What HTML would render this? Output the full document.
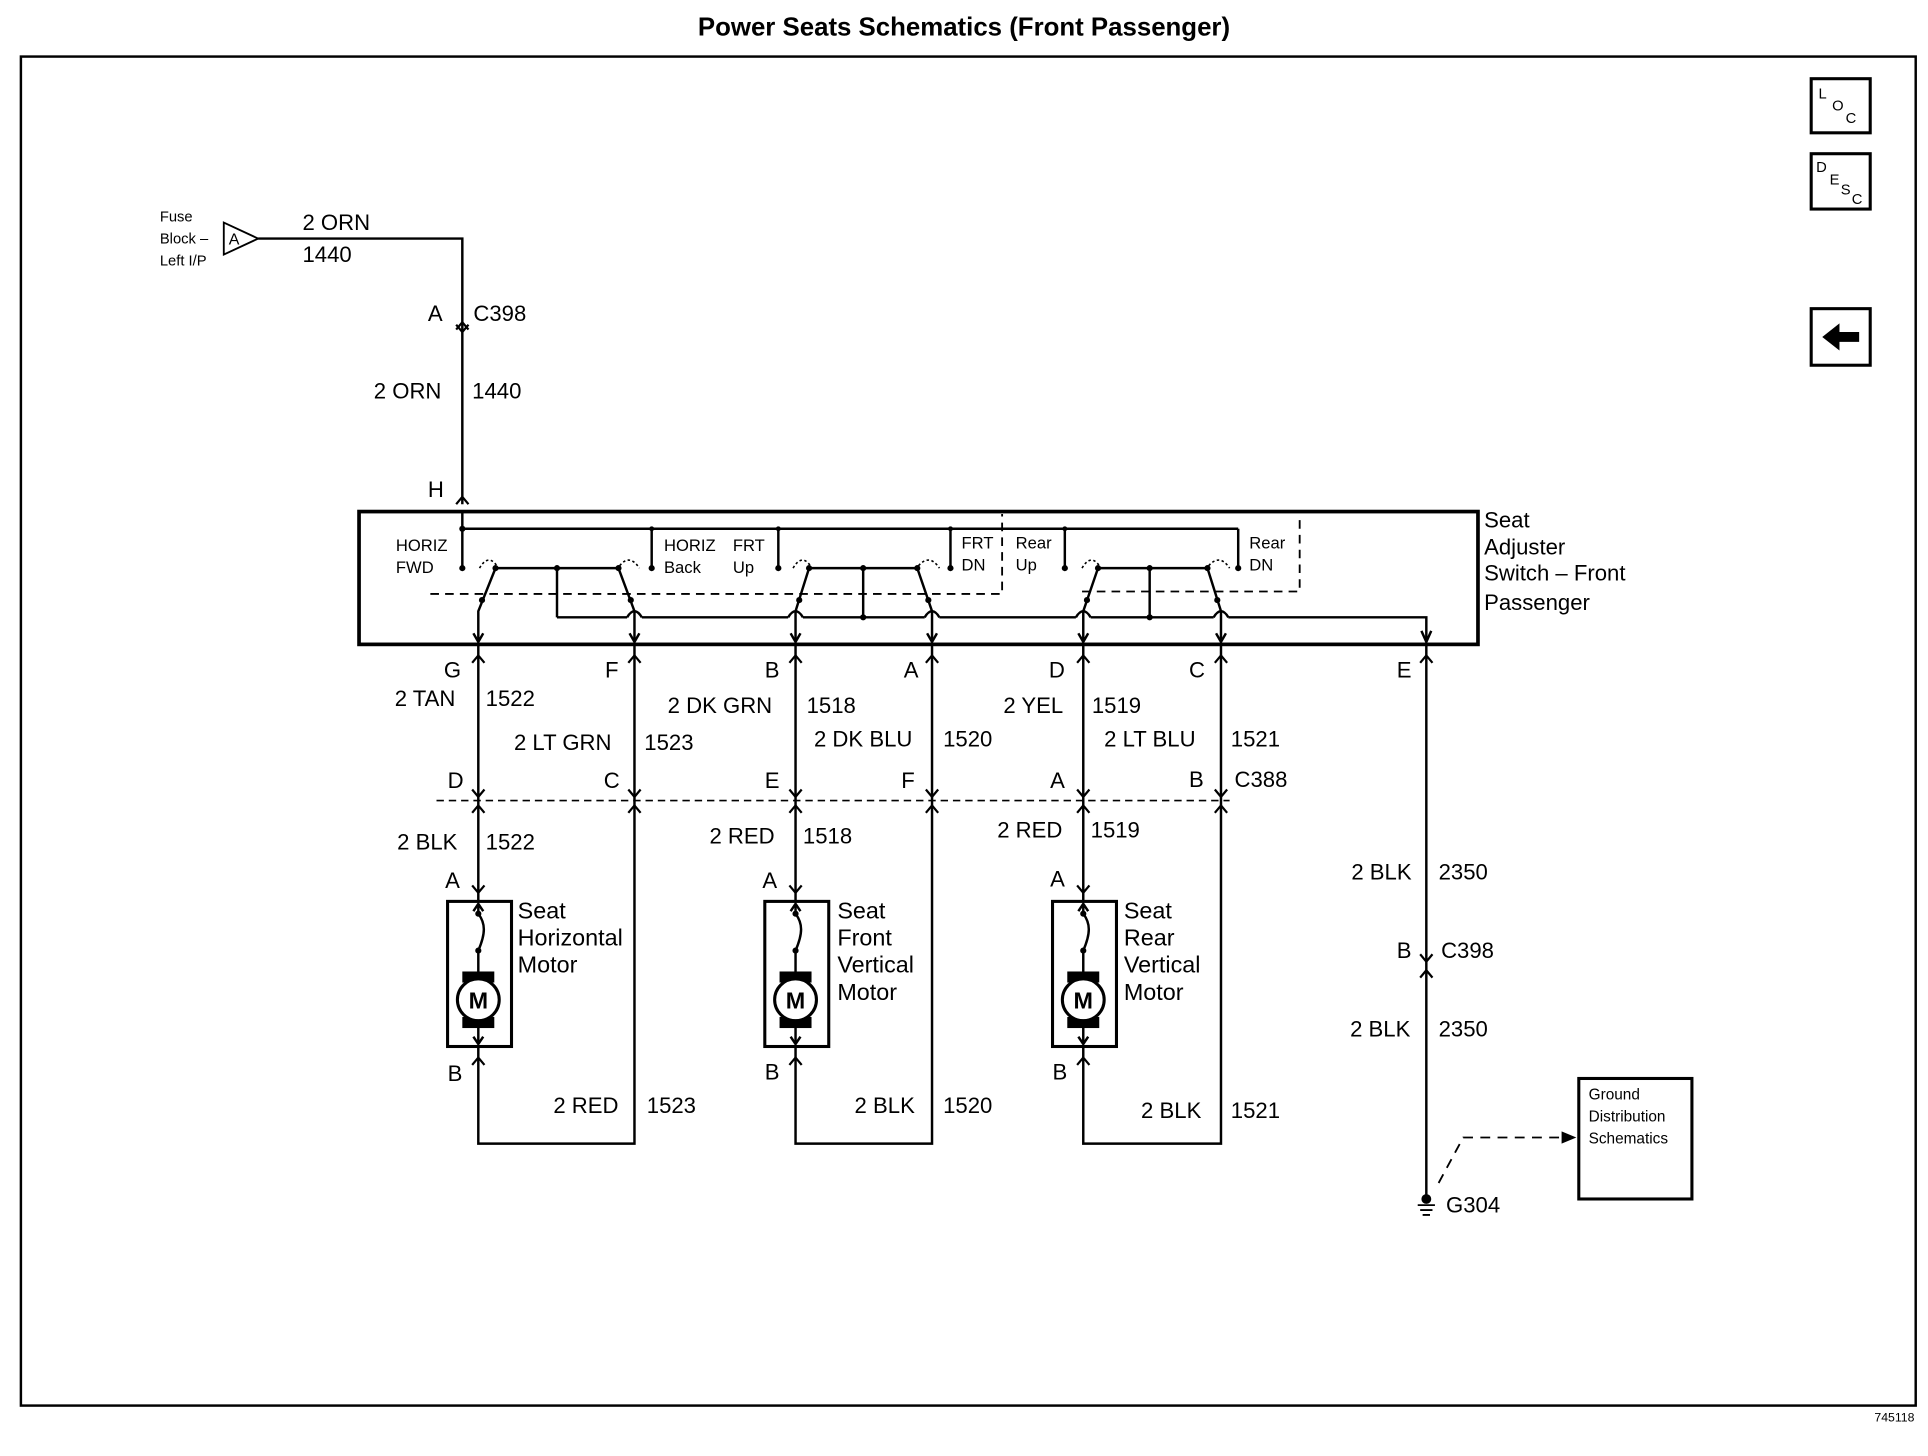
<!DOCTYPE html>
<html><head><style>
html,body{margin:0;padding:0;background:#fff;}
svg{display:block;}
text{font-family:"Liberation Sans",Arial,sans-serif;fill:#000;}
</style></head><body>
<svg width="1928" height="1456" viewBox="0 0 1568 1184" preserveAspectRatio="none" xmlns="http://www.w3.org/2000/svg">
<defs>
<g id="motor" fill="none" stroke="#000">
<rect x="-25" y="0" width="52" height="118" stroke-width="2.5"/>
<line x1="0" y1="2" x2="0" y2="10" stroke-width="2"/>
<path d="M-4 8 L0 2 L4 8" stroke-width="2"/>
<circle cx="0" cy="10" r="2" fill="#000"/>
<path d="M0 10 C 6 18, 6 26, 0 40" stroke-width="2"/>
<circle cx="0" cy="40" r="2" fill="#000"/>
<line x1="0" y1="40" x2="0" y2="60" stroke-width="2"/>
<rect x="-13" y="57" width="26" height="9" fill="#000" stroke="none"/>
<rect x="-13" y="94" width="26" height="9" fill="#000" stroke="none"/>
<circle cx="0" cy="80" r="17" fill="#fff" stroke-width="2.5"/>
<line x1="0" y1="100" x2="0" y2="116" stroke-width="2"/>
<path d="M-4 110 L0 116 L4 110" stroke-width="2"/>
</g>
<g id="fem" fill="none" stroke="#000" stroke-width="1.8"><path d="M-5 -6 L0 0 L5 -6"/></g>
<g id="male" fill="none" stroke="#000" stroke-width="1.8"><path d="M-5 6 L0 0 L5 6"/></g>
</defs>

<text x="784" y="29" font-size="21" font-weight="bold" text-anchor="middle">Power Seats Schematics (Front Passenger)</text>
<rect x="17" y="46" width="1541" height="1097" fill="none" stroke="#000" stroke-width="2"/>
<text x="1557" y="1156" font-size="10" text-anchor="end">745118</text>

<rect x="1473" y="64" width="48" height="44" fill="none" stroke="#000" stroke-width="2.5"/>
<text x="1479" y="80" font-size="12">L</text><text x="1490" y="90" font-size="12">O</text><text x="1501" y="100" font-size="12">C</text>
<rect x="1473" y="125" width="48" height="45" fill="none" stroke="#000" stroke-width="2.5"/>
<text x="1477" y="140" font-size="12">D</text><text x="1488" y="150" font-size="12">E</text><text x="1497" y="158" font-size="12">S</text><text x="1506" y="166" font-size="12">C</text>
<rect x="1473" y="251" width="48" height="46" fill="none" stroke="#000" stroke-width="2.5"/>
<path d="M1482 274 L1496 263 L1496 270 L1512 270 L1512 278 L1496 278 L1496 285 Z" fill="#000"/>

<text x="130" y="180" font-size="12">Fuse</text>
<text x="130" y="198" font-size="12">Block –</text>
<text x="130" y="216" font-size="12">Left I/P</text>
<path d="M182 181 L210 194 L182 207 Z" fill="none" stroke="#000" stroke-width="1.5"/>
<text x="186" y="199" font-size="13">A</text>
<g stroke="#000" stroke-width="2" fill="none">
<path d="M210 194 L376 194 L376 410"/>
</g>
<text x="246" y="187" font-size="18">2 ORN</text>
<text x="246" y="213" font-size="18">1440</text>
<use href="#male" x="376" y="262"/><use href="#fem" x="376" y="270"/>
<text x="348" y="261" font-size="18">A</text>
<text x="385" y="261" font-size="18">C398</text>
<text x="304" y="324" font-size="18">2 ORN</text>
<text x="384" y="324" font-size="18">1440</text>
<text x="348" y="404" font-size="18">H</text>
<use href="#male" x="376" y="404"/>

<rect x="292" y="416" width="910" height="108" fill="none" stroke="#000" stroke-width="3"/>
<text x="1207" y="429" font-size="18">Seat</text>
<text x="1207" y="451" font-size="18">Adjuster</text>
<text x="1207" y="472" font-size="18">Switch – Front</text>
<text x="1207" y="496" font-size="18">Passenger</text>
<g stroke="#000" stroke-width="2" fill="none">
<path d="M376 416 L376 462"/>
<path d="M376 430 L1007 430"/>
<path d="M530 430 L530 462 M633 430 L633 462 M773 430 L773 462 M866 430 L866 462 M1007 430 L1007 462"/>
<path d="M403 462 L503 462 M658 462 L746 462 M893 462 L982 462"/>
<path d="M453 462 L453 502 M702 462 L702 502 M935 462 L935 502"/>
<path d="M453 502 L510 502 M522 502 L641 502 M653 502 L752 502 M764 502 L875 502 M887 502 L987 502 M999 502 L1160 502 L1160 520"/>
<path d="M510 502 Q516 492 522 502 M641 502 Q647 492 653 502 M752 502 Q758 492 764 502 M875 502 Q881 492 887 502 M987 502 Q993 492 999 502"/>
<path d="M403 462 L389 497 L389 520 M503 462 L516 497 L516 520 M658 462 L647 497 L647 520 M746 462 L758 497 L758 520 M893 462 L881 497 L881 520 M982 462 L993 497 L993 520"/>
</g>
<g stroke="#000" stroke-width="1.3" fill="none" stroke-dasharray="2,2">
<path d="M390 462 Q397 450 404 460 M504 460 Q512 450 520 462 M645 462 Q652 450 659 460 M747 460 Q756 450 764 462 M880 462 Q887 450 894 460 M983 460 Q992 450 1000 462"/>
</g>
<g stroke="#000" stroke-width="1.5" fill="none" stroke-dasharray="7,5">
<path d="M350 483 L815 483 L815 418"/>
<path d="M880 481 L1057 481 L1057 418"/>
</g>
<g fill="#000">
<circle cx="376" cy="430" r="2.5"/><circle cx="376" cy="462" r="2.5"/><circle cx="530" cy="462" r="2.5"/><circle cx="633" cy="462" r="2.5"/><circle cx="773" cy="462" r="2.5"/><circle cx="866" cy="462" r="2.5"/><circle cx="1007" cy="462" r="2.5"/>
<circle cx="530" cy="430" r="2"/><circle cx="633" cy="430" r="2"/><circle cx="773" cy="430" r="2"/><circle cx="866" cy="430" r="2"/>
<circle cx="403" cy="462" r="2.5"/><circle cx="503" cy="462" r="2.5"/><circle cx="658" cy="462" r="2.5"/><circle cx="746" cy="462" r="2.5"/><circle cx="893" cy="462" r="2.5"/><circle cx="982" cy="462" r="2.5"/>
<circle cx="453" cy="462" r="2.5"/><circle cx="702" cy="462" r="2.5"/><circle cx="935" cy="462" r="2.5"/>
<circle cx="702" cy="502" r="2.5"/><circle cx="935" cy="502" r="2.5"/>
<circle cx="392" cy="488" r="2.5"/><circle cx="513" cy="488" r="2.5"/><circle cx="650" cy="488" r="2.5"/><circle cx="755" cy="488" r="2.5"/><circle cx="884" cy="488" r="2.5"/><circle cx="990" cy="488" r="2.5"/>
</g>
<g font-size="13.5">
<text x="322" y="448">HORIZ</text><text x="322" y="466">FWD</text>
<text x="540" y="448">HORIZ</text><text x="540" y="466">Back</text>
<text x="596" y="448">FRT</text><text x="596" y="466">Up</text>
<text x="782" y="446">FRT</text><text x="782" y="464">DN</text>
<text x="826" y="446">Rear</text><text x="826" y="464">Up</text>
<text x="1016" y="446">Rear</text><text x="1016" y="464">DN</text>
</g>
<g fill="none" stroke="#000" stroke-width="2"><path d="M385 515 L389 522 L393 515 M512 515 L516 522 L520 515 M643 515 L647 522 L651 515 M754 515 L758 522 L762 515 M877 515 L881 522 L885 515 M989 515 L993 522 L997 515 M1156 513 L1160 522 L1164 513"/></g>

<g stroke="#000" stroke-width="2" fill="none">
<path d="M389 524 L389 733 M516 524 L516 930 L389 930 L389 851"/>
<path d="M647 524 L647 733 M758 524 L758 930 L647 930 L647 851"/>
<path d="M881 524 L881 733 M993 524 L993 930 L881 930 L881 851"/>
<path d="M1160 524 L1160 972"/>
</g>
<g>
<use href="#male" x="389" y="533"/><use href="#male" x="516" y="533"/><use href="#male" x="647" y="533"/><use href="#male" x="758" y="533"/><use href="#male" x="881" y="533"/><use href="#male" x="993" y="533"/><use href="#male" x="1160" y="533"/>
<use href="#fem" x="389" y="648"/><use href="#fem" x="516" y="648"/><use href="#fem" x="647" y="648"/><use href="#fem" x="758" y="648"/><use href="#fem" x="881" y="648"/><use href="#fem" x="993" y="648"/>
<use href="#male" x="389" y="655"/><use href="#male" x="516" y="655"/><use href="#male" x="647" y="655"/><use href="#male" x="758" y="655"/><use href="#male" x="881" y="655"/><use href="#male" x="993" y="655"/>
<use href="#fem" x="389" y="726"/><use href="#fem" x="647" y="726"/><use href="#fem" x="881" y="726"/>
<use href="#male" x="389" y="860"/><use href="#male" x="647" y="860"/><use href="#male" x="881" y="860"/>
<use href="#fem" x="1160" y="782"/><use href="#male" x="1160" y="789"/>
</g>
<path d="M355 651 L1000 651" stroke="#000" stroke-width="1.3" stroke-dasharray="6,4" fill="none"/>

<g font-size="18">
<text x="361" y="551">G</text><text x="492" y="551">F</text><text x="622" y="551">B</text><text x="735" y="551">A</text><text x="853" y="551">D</text><text x="967" y="551">C</text><text x="1136" y="551">E</text>
<text x="321" y="574">2 TAN</text><text x="395" y="574">1522</text>
<text x="418" y="610">2 LT GRN</text><text x="524" y="610">1523</text>
<text x="543" y="580">2 DK GRN</text><text x="656" y="580">1518</text>
<text x="662" y="607">2 DK BLU</text><text x="767" y="607">1520</text>
<text x="816" y="580">2 YEL</text><text x="888" y="580">1519</text>
<text x="898" y="607">2 LT BLU</text><text x="1001" y="607">1521</text>
<text x="364" y="641">D</text><text x="491" y="641">C</text><text x="622" y="641">E</text><text x="733" y="641">F</text><text x="854" y="641">A</text><text x="967" y="640">B</text><text x="1004" y="640">C388</text>
<text x="323" y="691">2 BLK</text><text x="395" y="691">1522</text>
<text x="577" y="686">2 RED</text><text x="653" y="686">1518</text>
<text x="811" y="681">2 RED</text><text x="887" y="681">1519</text>
<text x="362" y="722">A</text><text x="620" y="722">A</text><text x="854" y="721">A</text>
<text x="364" y="879">B</text><text x="622" y="878">B</text><text x="856" y="878">B</text>
<text x="450" y="905">2 RED</text><text x="526" y="905">1523</text>
<text x="695" y="905">2 BLK</text><text x="767" y="905">1520</text>
<text x="928" y="909">2 BLK</text><text x="1001" y="909">1521</text>
<text x="1099" y="715">2 BLK</text><text x="1170" y="715">2350</text>
<text x="1136" y="779">B</text><text x="1172" y="779">C398</text>
<text x="1098" y="843">2 BLK</text><text x="1170" y="843">2350</text>
<text x="1176" y="986">G304</text>
</g>

<use href="#motor" x="389" y="733"/>
<use href="#motor" x="647" y="733"/>
<use href="#motor" x="881" y="733"/>
<g font-size="19" font-weight="bold" text-anchor="middle">
<text x="389" y="820">M</text><text x="647" y="820">M</text><text x="881" y="820">M</text>
</g>
<g font-size="19">
<text x="421" y="747">Seat</text><text x="421" y="769">Horizontal</text><text x="421" y="791">Motor</text>
<text x="681" y="747">Seat</text><text x="681" y="769">Front</text><text x="681" y="791">Vertical</text><text x="681" y="813">Motor</text>
<text x="914" y="747">Seat</text><text x="914" y="769">Rear</text><text x="914" y="791">Vertical</text><text x="914" y="813">Motor</text>
</g>

<circle cx="1160" cy="975" r="4" fill="#000"/>
<g stroke="#000" stroke-width="1.5"><path d="M1153 980 L1167 980 M1155 984 L1165 984 M1157 988 L1163 988"/></g>
<path d="M1170 962 L1190 925 L1270 925" stroke="#000" stroke-width="1.5" stroke-dasharray="8,6" fill="none"/>
<path d="M1282 925 L1270 920 L1270 930 Z" fill="#000"/>
<rect x="1284" y="877" width="92" height="98" fill="none" stroke="#000" stroke-width="2.5"/>
<g font-size="12.5"><text x="1292" y="894">Ground</text><text x="1292" y="912">Distribution</text><text x="1292" y="930">Schematics</text></g>
</svg>
</body></html>
